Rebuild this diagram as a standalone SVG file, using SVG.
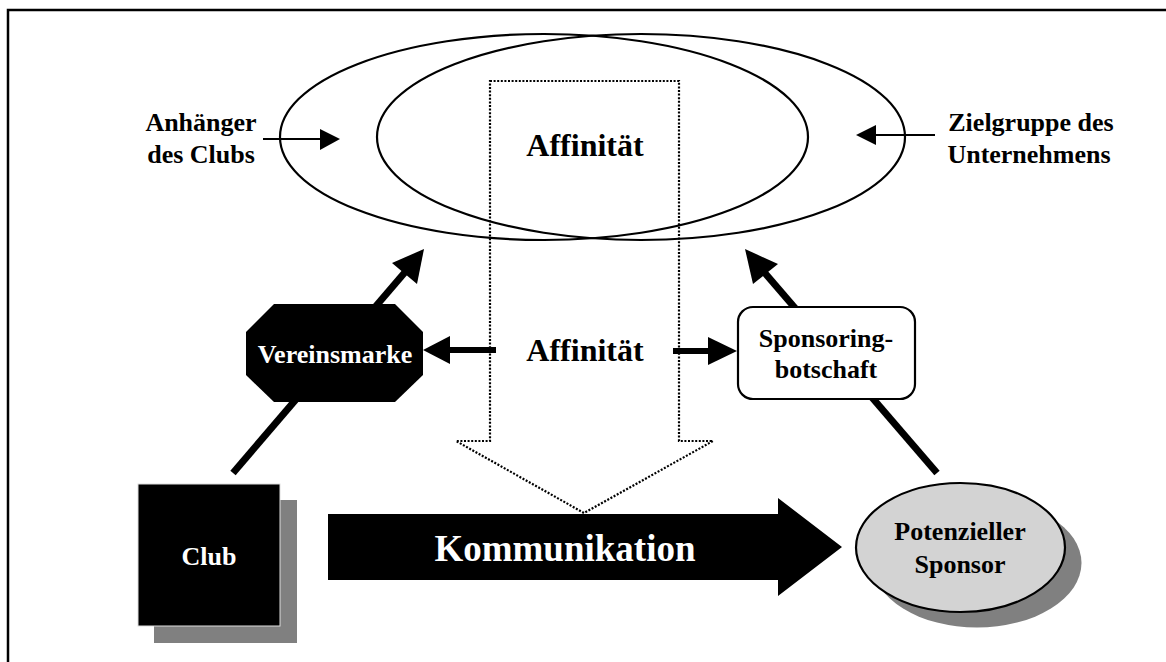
<svg xmlns="http://www.w3.org/2000/svg" width="1166" height="662" viewBox="0 0 1166 662">
  <defs>
    <style>
      .t { font-family: "Liberation Serif", "Times New Roman", serif; font-weight: bold; text-anchor: middle; }
      .lbl { font-size: 26px; fill: #000; }
      .inv { font-size: 26px; fill: #fff; }
      .big { font-size: 32px; fill: #000; }
      .thin { stroke: #000; stroke-width: 2.2; fill: none; }
      .thick { stroke: #000; stroke-width: 6; fill: none; }
      .diag { stroke: #000; stroke-width: 7; fill: none; }
      .dotted { stroke: #000; stroke-width: 2.2; stroke-dasharray: 2 1.6; fill: none; }
    </style>
  </defs>

  <rect width="1166" height="662" fill="#fff"/>
  <!-- frame -->
  <rect x="8" y="10" width="1170" height="670" fill="none" stroke="#000" stroke-width="2.5"/>

  <!-- overlapping target groups -->
  <g id="groups">
    <ellipse cx="544" cy="137" rx="264" ry="103" class="thin"/>
    <ellipse cx="641" cy="137" rx="264" ry="103" class="thin"/>
    <text class="t big" x="585" y="156">Affinität</text>
  </g>

  <!-- dotted affinity arrow pointing down to the communication arrow -->
  <g id="affinity-flow">
    <path class="dotted" d="M490,81 H679 V441 H713 L584,513 L456,441 H490 Z"/>
    <text class="t big" x="585" y="361">Affinität</text>
  </g>

  <g id="label-fans">
    <text class="t lbl" x="201" y="131">Anhänger</text>
    <text class="t lbl" x="201" y="163">des Clubs</text>
  </g>
  <g id="label-target">
    <text class="t lbl" x="1031" y="131">Zielgruppe des</text>
    <text class="t lbl" x="1029" y="163">Unternehmens</text>
  </g>

  <g id="connectors">
    <!-- label pointers -->
    <line class="thin" x1="263" y1="139" x2="322" y2="139"/>
    <polygon points="320,129 340,139 320,150" fill="#000"/>
    <line class="thin" x1="935" y1="135" x2="874" y2="135"/>
    <polygon points="876,125 856,135 876,145" fill="#000"/>

    <!-- affinity to brand and message -->
    <line class="thick" x1="496" y1="350" x2="448" y2="350"/>
    <polygon points="450,336 423,350 450,364" fill="#000"/>
    <line class="thick" x1="673" y1="351" x2="710" y2="351"/>
    <polygon points="708,337 737,351 708,365" fill="#000"/>

    <!-- club to target groups -->
    <line class="diag" x1="233" y1="473" x2="406" y2="271"/>
    <polygon points="424,249 392,263 417,284" fill="#000"/>
    <!-- sponsor to target groups -->
    <line class="diag" x1="937" y1="473" x2="764" y2="272"/>
    <polygon points="745,249 778,264 753,284" fill="#000"/>

    <!-- communication arrow -->
    <polygon points="328,514 778,514 778,498 842,547 778,596 778,580 328,580" fill="#000"/>
    <text class="t" x="565" y="561" font-size="37" fill="#fff">Kommunikation</text>
  </g>

  <g id="brand">
    <polygon points="274,304 395,304 423,332 423,375 395,402 274,402 246,375 246,332" fill="#000"/>
    <text class="t inv" x="335" y="363">Vereinsmarke</text>
  </g>

  <g id="message">
    <rect x="738" y="307" width="177" height="92" rx="15" ry="15" fill="#fff" stroke="#000" stroke-width="2.2"/>
    <text class="t lbl" x="826" y="347">Sponsoring-</text>
    <text class="t lbl" x="826" y="378">botschaft</text>
  </g>

  <g id="club">
    <rect x="154" y="500" width="143" height="143" fill="#808080"/>
    <rect x="138" y="484" width="142" height="142" fill="#000" stroke="#ddd" stroke-width="1"/>
    <text class="t inv" x="209" y="565">Club</text>
  </g>

  <g id="sponsor">
    <ellipse cx="977" cy="563" rx="104.5" ry="64.5" fill="#808080"/>
    <ellipse cx="960.5" cy="547.5" rx="104.5" ry="64.5" fill="#d3d3d3" stroke="#000" stroke-width="2.2"/>
    <text class="t lbl" x="960" y="540">Potenzieller</text>
    <text class="t lbl" x="960" y="573">Sponsor</text>
  </g>
</svg>
